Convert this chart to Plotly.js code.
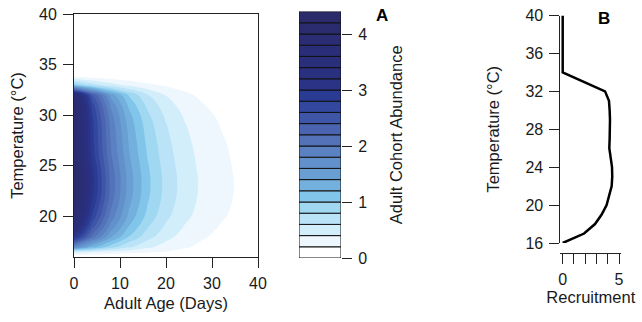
<!DOCTYPE html>
<html><head><meta charset="utf-8">
<script src="https://cdn.plot.ly/plotly-3.0.1.min.js"></script>
<style>html,body{margin:0;padding:0;background:#fff}#chart{width:642px;height:322px}</style>
</head><body><div id="chart"></div>
<script>
// ---- Panel A: adult cohort abundance by age (days) and temperature (°C)
const ageDays = [0, 4, 8, 12, 16, 20, 24, 28, 32, 36, 40];
const gridTemp = [16, 16.5, 17, 18, 19, 20, 21, 22, 23, 24, 25, 26, 27, 28, 29, 30, 31, 32, 33, 34];
const abundance = [
  [0, 0, 0, 0, 0, 0, 0, 0, 0, 0, 0],
  [0.50, 0.410, 0.337, 0.276, 0.226, 0.186, 0.152, 0.125, 0.103, 0.084, 0.069],
  [1.80, 1.270, 0.896, 0.632, 0.446, 0.315, 0.222, 0.157, 0.110, 0.078, 0.055],
  [3.05, 2.094, 1.438, 0.987, 0.678, 0.465, 0.320, 0.219, 0.151, 0.103, 0.071],
  [3.60, 2.486, 1.716, 1.185, 0.818, 0.565, 0.390, 0.269, 0.186, 0.129, 0.089],
  [3.95, 2.752, 1.917, 1.335, 0.930, 0.648, 0.451, 0.314, 0.219, 0.152, 0.106],
  [4.15, 2.901, 2.028, 1.417, 0.991, 0.693, 0.484, 0.338, 0.237, 0.165, 0.115],
  [4.33, 3.028, 2.118, 1.481, 1.036, 0.725, 0.507, 0.355, 0.248, 0.173, 0.121],
  [4.38, 3.066, 2.146, 1.502, 1.051, 0.735, 0.515, 0.360, 0.252, 0.177, 0.124],
  [4.38, 3.062, 2.140, 1.496, 1.046, 0.731, 0.511, 0.357, 0.250, 0.174, 0.122],
  [4.30, 3.000, 2.093, 1.460, 1.019, 0.711, 0.496, 0.346, 0.241, 0.169, 0.117],
  [4.18, 2.914, 2.031, 1.416, 0.987, 0.688, 0.480, 0.334, 0.233, 0.163, 0.113],
  [4.15, 2.879, 1.998, 1.386, 0.962, 0.667, 0.463, 0.321, 0.223, 0.154, 0.107],
  [4.17, 2.866, 1.970, 1.354, 0.931, 0.640, 0.440, 0.302, 0.208, 0.143, 0.098],
  [4.20, 2.856, 1.943, 1.321, 0.898, 0.611, 0.416, 0.283, 0.192, 0.131, 0.089],
  [4.20, 2.810, 1.880, 1.257, 0.841, 0.563, 0.377, 0.252, 0.168, 0.113, 0.076],
  [4.12, 2.691, 1.757, 1.148, 0.749, 0.489, 0.320, 0.209, 0.136, 0.089, 0.058],
  [3.80, 2.408, 1.526, 0.967, 0.613, 0.389, 0.246, 0.156, 0.099, 0.063, 0.040],
  [1.00, 0.698, 0.487, 0.340, 0.237, 0.165, 0.115, 0.081, 0.056, 0.039, 0.027],
  [0, 0, 0, 0, 0, 0, 0, 0, 0, 0, 0]
];
// contour level boundaries and the colour of each band (legend A)
const contourLevels = [0, 0.2, 0.4, 0.6, 0.8, 1.0, 1.2, 1.4, 1.6, 1.8, 2.0, 2.2, 2.4, 2.6, 2.8, 3.0, 3.2, 3.4, 3.6, 3.8, 4.0, 4.2, 4.4];
const bandColors = ['#FFFFFF', '#EDF7FD', '#D3EEFB', '#BBE3F7', '#A0D8F2', '#82C5EA', '#74B0DD', '#6A9FD3',
  '#6290CA', '#5A81C2', '#5372B8', '#4A64B0', '#3F56A8', '#33479F', '#2A3B93', '#2B3386',
  '#2A3080', '#2A2F7C', '#2A2E78', '#2B2D74', '#2B2C6F', '#2B2A6B'];
const ageTicks = [0, 10, 20, 30, 40];
const tempTicksA = [20, 25, 30, 35, 40];
const abundanceTicks = [0, 1, 2, 3, 4];

// ---- Panel B: recruitment by temperature
const recruitTemp = [16, 17, 18, 19, 20, 21, 22, 23, 24, 25, 26, 27, 28, 29, 30, 31, 32, 33, 34, 35, 36, 37, 38, 39, 40];
const recruitValue = [0, 1.9, 2.87, 3.46, 3.9, 4.14, 4.35, 4.4, 4.38, 4.26, 4.14, 4.17, 4.2, 4.2, 4.17, 4.11, 3.76, 1.88, 0, 0, 0, 0, 0, 0, 0];
const tempTicksB = [16, 20, 24, 28, 32, 36, 40];
const recruitTicks = [0, 1, 2, 3, 4, 5];
const recruitTickText = ['0', '', '', '', '', '5'];

// ---- build
const W = 642, H = 322;
const px = v => v / W, py = v => 1 - v / H;
const FONT = 'Liberation Sans, Arial, Helvetica, sans-serif';
const INK = '#1a1a1a';

const nBands = bandColors.length;           // 22 bands
const step = contourLevels[1] - contourLevels[0];
const cscale = bandColors.map((c, k) => [k / (nBands - 1), c]);

const contour = {
  type: 'contour', x: ageDays, y: gridTemp, z: abundance,
  xaxis: 'x', yaxis: 'y',
  colorscale: cscale, showscale: false, hoverinfo: 'skip',
  contours: {coloring: 'fill', showlines: false,
    start: contourLevels[1], end: contourLevels[nBands - 1], size: step},
  line: {width: 0, smoothing: 1}
};

const legendBars = {
  type: 'bar', xaxis: 'x3', yaxis: 'y3',
  x: bandColors.map(() => 0),
  base: contourLevels.slice(0, -1),
  y: contourLevels.slice(1).map((v, i) => v - contourLevels[i]),
  width: 1,
  marker: {color: bandColors, line: {color: '#111', width: 1}},
  hoverinfo: 'skip', showlegend: false
};

const recruit = {
  type: 'scatter', mode: 'lines', xaxis: 'x2', yaxis: 'y2',
  x: recruitValue, y: recruitTemp,
  line: {color: '#000', width: 2.5}, hoverinfo: 'skip', showlegend: false
};

const tickfont = {family: FONT, size: 16, color: INK};
const titlefont = {family: FONT, size: 16.5, color: INK};
const axBase = {showgrid: false, zeroline: false, ticks: 'outside', ticklen: 10, tickwidth: 1,
  tickcolor: '#222', linecolor: '#222', linewidth: 1, tickfont: tickfont, automargin: false};

const layout = {
  width: W, height: H, margin: {l: 0, r: 0, t: 0, b: 0},
  paper_bgcolor: '#fff', plot_bgcolor: 'rgba(0,0,0,0)', showlegend: false,
  xaxis: Object.assign({}, axBase, {domain: [px(74), px(258)], range: [0, 40], tickvals: ageTicks,
    showline: true, mirror: true, anchor: 'y', ticklabelstandoff: 2,
    title: {text: 'Adult Age (Days)', font: titlefont, standoff: 6}}),
  yaxis: Object.assign({}, axBase, {domain: [py(257), py(14)], range: [16, 40], tickvals: tempTicksA,
    showline: true, mirror: true, anchor: 'x', ticklabelstandoff: 3,
    title: {text: 'Temperature (°C)', font: titlefont, standoff: 11}}),
  xaxis3: {domain: [px(299), px(341)], range: [-0.5, 0.5], visible: false, anchor: 'y3', fixedrange: true},
  yaxis3: Object.assign({}, axBase, {domain: [py(258), py(11.6)], range: [contourLevels[0], contourLevels[nBands]],
    tickvals: abundanceTicks, side: 'right', anchor: 'x3', showline: false, ticklabelstandoff: 3,
    title: {text: 'Adult Cohort Abundance', font: titlefont, standoff: 24}}),
  xaxis2: Object.assign({}, axBase, {domain: [px(560.45), px(621.25)], range: [-0.2, 5.2],
    tickvals: recruitTicks, ticktext: recruitTickText, showline: true, anchor: 'free', position: py(253),
    ticklabelstandoff: 2,
    title: {text: 'Recruitment', font: titlefont, standoff: 3}}),
  yaxis2: Object.assign({}, axBase, {domain: [py(243), py(15.5)], range: [16, 40],
    tickvals: tempTicksB, showline: true, anchor: 'x2', ticklabelstandoff: 3,
    title: {text: 'Temperature (°C)', font: titlefont, standoff: 21}}),
  annotations: [
    {text: '<b>A</b>', xref: 'paper', yref: 'paper', x: px(381.5), y: py(16), showarrow: false,
      xanchor: 'center', yanchor: 'middle', font: {family: FONT, size: 17, color: '#000'}},
    {text: '<b>B</b>', xref: 'paper', yref: 'paper', x: px(604), y: py(18), showarrow: false,
      xanchor: 'center', yanchor: 'middle', font: {family: FONT, size: 17, color: '#000'}}
  ]
};

Plotly.newPlot('chart', [contour, legendBars, recruit], layout, {staticPlot: true, displayModeBar: false});
</script></body></html>
